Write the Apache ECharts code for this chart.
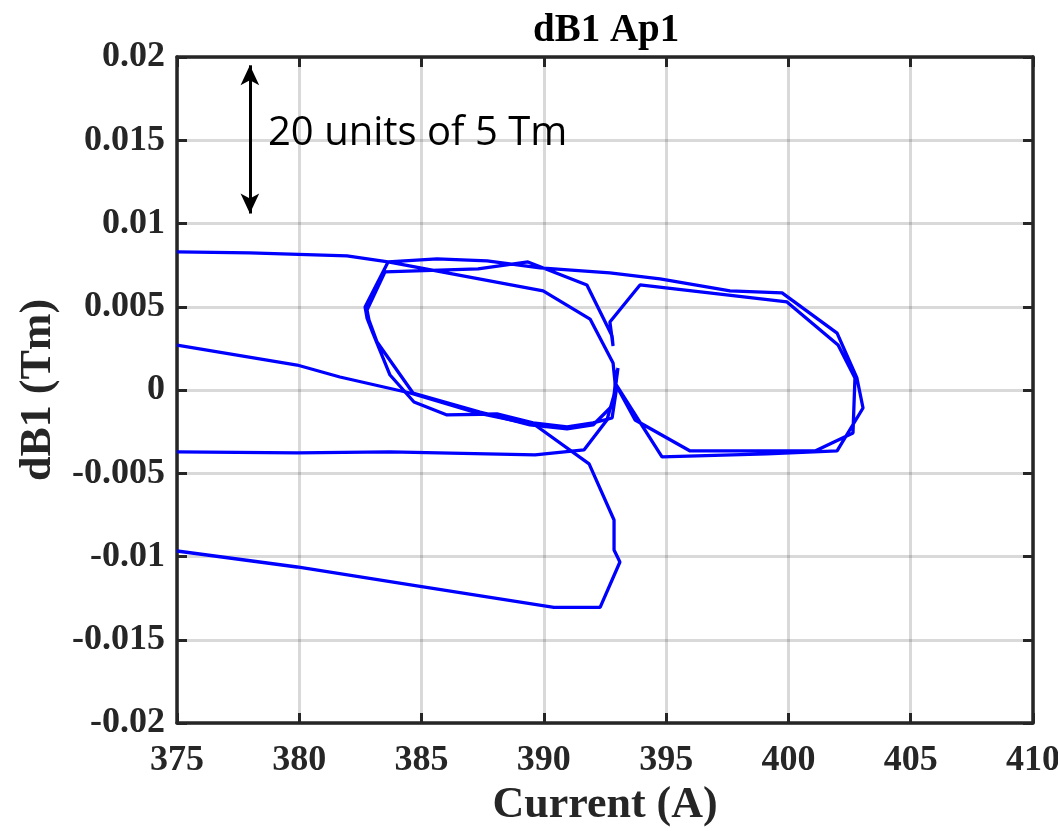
<!DOCTYPE html>
<html>
<head>
<meta charset="utf-8">
<script src="https://cdn.jsdelivr.net/npm/echarts@6/dist/echarts.min.js"></script>
<style>html,body{margin:0;padding:0;background:#fff}#chart{width:1058px;height:831px}</style>
</head>
<body>
<div id="chart"></div>
<script>
// Trace values (null separates pen strokes)
const current = [
  375.00, 377.98, 381.95, 383.63, 389.97, 391.89, 392.83, 392.95, 392.79, 392.01, 390.95, 389.56, 388.08, 386.04, 384.69, 383.71, 383.01, 382.77, 382.69, 383.63, 385.63, 387.68, 389.84, 392.70, 394.75, 397.61, 399.74, 401.99, 402.80, 403.05, 401.99, 399.12, 394.83, 392.91, 393.03,
  393.03, 392.83, 392.01, 390.95, 389.43, 387.39, 384.65, 383.18, 382.85, 382.77, 383.50, 387.31, 389.35, 391.76, 392.79, 392.83, 392.70, 393.93, 397.82, 399.94, 402.03, 402.72, 402.64, 401.09, 395.98, 393.73, 392.95,
  null,
  375.00, 379.91, 381.66, 384.53, 387.27, 389.64, 391.85, 392.87, 392.87, 393.11, 392.30, 390.41, 384.81, 379.91, 375.00,
  null,
  375.00, 379.91, 383.71, 389.64, 391.64, 392.58, 392.87, 392.99
];
const dB1 = [
  0.00829, 0.00823, 0.00805, 0.00769, 0.00595, 0.00426, 0.00162, -0.00012, -0.00168, -0.00198, -0.00222, -0.00198, -0.00144, -0.00150, -0.00072, 0.00090, 0.00342, 0.00432, 0.00499, 0.00769, 0.00787, 0.00775, 0.00733, 0.00703, 0.00667, 0.00595, 0.00583, 0.00342, 0.00072, -0.00108, -0.00366, -0.00384, -0.00402, 0.00042, 0.00132,
  0.00132, -0.00090, -0.00210, -0.00234, -0.00210, -0.00132, -0.00018, 0.00288, 0.00420, 0.00480, 0.00709, 0.00727, 0.00769, 0.00631, 0.00324, 0.00264, 0.00408, 0.00631, 0.00565, 0.00529, 0.00270, 0.00072, -0.00258, -0.00366, -0.00366, -0.00180, 0.00030,
  null,
  0.00270, 0.00150, 0.00078, -0.00018, -0.00138, -0.00210, -0.00444, -0.00781, -0.00961, -0.01033, -0.01306, -0.01306, -0.01177, -0.01063, -0.00967,
  null,
  -0.00372, -0.00378, -0.00372, -0.00390, -0.00360, -0.00180, -0.00030, 0.00120
];
const xTicks = [375, 380, 385, 390, 395, 400, 405, 410];
const yTicks = [-0.02, -0.015, -0.01, -0.005, 0, 0.005, 0.01, 0.015, 0.02];
const arrowCurrent = [377.98, 377.98];
const arrowDB1 = [0.0195, 0.0106];
const noteText = '20 units of 5 Tm';

// split strokes
const strokes = [];
let cur = [];
for (let i = 0; i < current.length; i++) {
  if (current[i] === null) { if (cur.length) strokes.push(cur); cur = []; }
  else cur.push([current[i], dB1[i]]);
}
if (cur.length) strokes.push(cur);

const serif = '"Liberation Serif", "Times New Roman", serif';
const axisColor = '#262626';
const labelStyle = { fontFamily: serif, fontWeight: 'bold', fontSize: 36, color: '#262626' };

const series = strokes.map(s => ({
  type: 'line', data: s, showSymbol: false, symbol: 'none', clip: true,
  lineStyle: { color: '#0000ff', width: 3.3 }, z: 3, silent: true, animation: false
}));
series.push({
  type: 'line', data: [], silent: true, animation: false,
  markLine: {
    silent: true, symbol: ['arrow', 'arrow'], symbolSize: [14, 20], label: { show: false },
    lineStyle: { color: '#000', width: 3, type: 'solid' },
    data: [[{ coord: [arrowCurrent[0], arrowDB1[0]] }, { coord: [arrowCurrent[1], arrowDB1[1]] }]]
  }
});

const chart = echarts.init(document.getElementById('chart'));
chart.setOption({
  animation: false,
  title: {
    text: 'dB1 Ap1', left: 528, top: 6,
    textStyle: { fontFamily: serif, fontWeight: 'bold', fontSize: 39, color: '#000' }
  },
  grid: { left: 177, right: 25, top: 57, bottom: 108, show: false, containLabel: false, outerBoundsMode: 'none' },
  xAxis: [{
    type: 'value', min: 375, max: 410, interval: 5, position: 'bottom',
    name: 'Current (A)', nameLocation: 'middle', nameGap: 54,
    nameTextStyle: { fontFamily: serif, fontWeight: 'bold', fontSize: 44, color: '#262626' },
    axisLine: { show: true, onZero: false, lineStyle: { color: axisColor, width: 3.5 } },
    axisTick: { show: true, inside: true, length: 10, lineStyle: { color: axisColor, width: 3 } },
    axisLabel: Object.assign({ margin: 20, formatter: v => xTicks.includes(v) ? String(v) : '' }, labelStyle),
    splitLine: { show: true, lineStyle: { color: 'rgba(0,0,0,0.15)', width: 3 } }
  }, {
    type: 'value', min: 375, max: 410, interval: 5, position: 'top',
    axisLine: { show: true, onZero: false, lineStyle: { color: axisColor, width: 3.5 } },
    axisTick: { show: true, inside: true, length: 10, lineStyle: { color: axisColor, width: 3 } },
    axisLabel: { show: false }, splitLine: { show: false }
  }],
  yAxis: [{
    type: 'value', min: -0.02, max: 0.02, interval: 0.005, position: 'left',
    name: 'dB1 (Tm)', nameLocation: 'middle', nameGap: 115, nameRotate: 90,
    nameTextStyle: { fontFamily: serif, fontWeight: 'bold', fontSize: 44, color: '#262626' },
    axisLine: { show: true, onZero: false, lineStyle: { color: axisColor, width: 3.5 } },
    axisTick: { show: true, inside: true, length: 10, lineStyle: { color: axisColor, width: 3 } },
    axisLabel: Object.assign({ margin: 12, formatter: v => {
      const t = yTicks.find(k => Math.abs(k - v) < 1e-9);
      return t === undefined ? '' : String(t);
    } }, labelStyle),
    splitLine: { show: true, lineStyle: { color: 'rgba(0,0,0,0.15)', width: 3 } }
  }, {
    type: 'value', min: -0.02, max: 0.02, interval: 0.005, position: 'right',
    axisLine: { show: true, onZero: false, lineStyle: { color: axisColor, width: 3.5 } },
    axisTick: { show: true, inside: true, length: 10, lineStyle: { color: axisColor, width: 3 } },
    axisLabel: { show: false }, splitLine: { show: false }
  }],
  graphic: [{
    type: 'text', left: 268, top: 114, z: 10,
    style: { text: noteText, font: '40px "Open Sans", "Noto Sans", sans-serif', fill: '#000' }
  }],
  series: series
});
</script>
</body>
</html>
